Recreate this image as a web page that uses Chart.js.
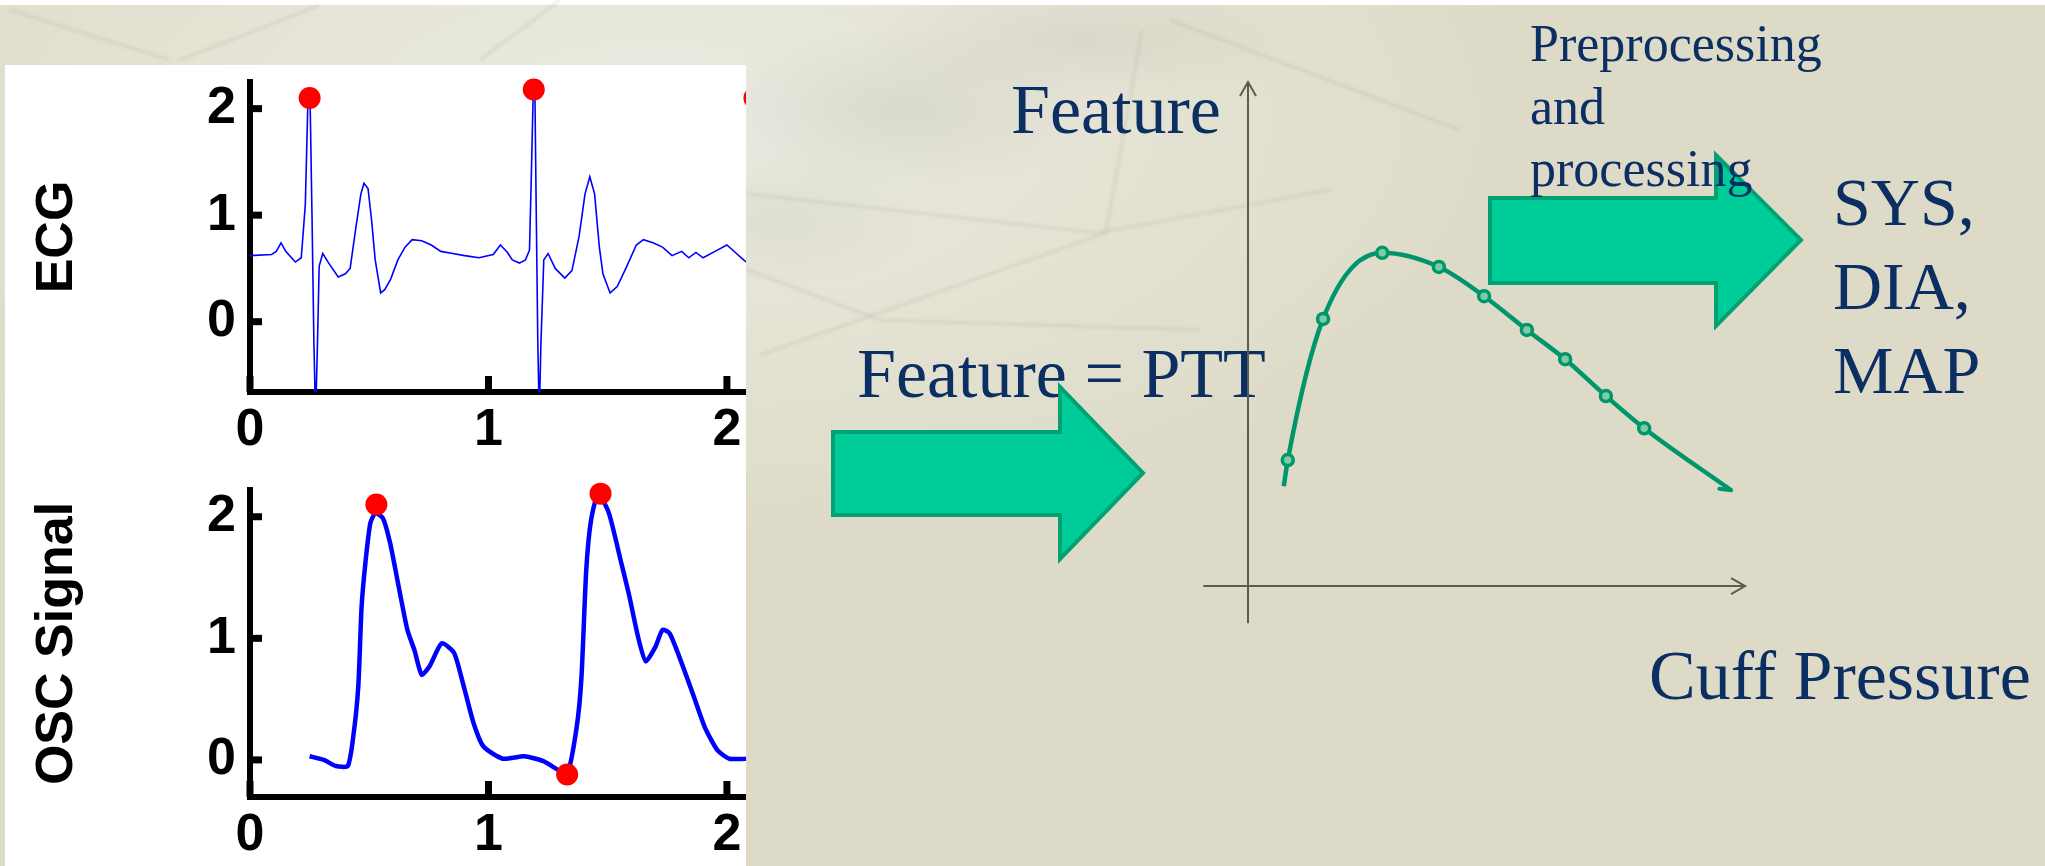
<!DOCTYPE html>
<html>
<head>
<meta charset="utf-8">
<script src="https://cdn.jsdelivr.net/npm/chart.js@4.4.0/dist/chart.umd.min.js"></script>
<style>
  html, body { margin: 0; padding: 0; }
  body {
    width: 2045px; height: 866px; position: relative; overflow: hidden;
    background: #dddbc7;
    font-family: "Liberation Serif", "Times New Roman", serif;
  }
  #bg {
    position: absolute; left: 0; top: 0; width: 2045px; height: 866px;
    background:
      linear-gradient(to bottom, #fff 0, #fff 5px, rgba(255,255,255,0) 5px),
      radial-gradient(ellipse 260px 110px at 900px 110px, rgba(170,170,160,0.22), rgba(170,170,160,0) 75%),
      radial-gradient(ellipse 300px 80px at 1080px 40px, rgba(175,175,165,0.2), rgba(175,175,165,0) 75%),
      radial-gradient(ellipse 200px 90px at 780px 220px, rgba(180,180,170,0.18), rgba(180,180,170,0) 75%),
      radial-gradient(ellipse 900px 420px at 650px 120px, rgba(236,236,228,0.95), rgba(232,231,219,0.6) 55%, rgba(221,219,199,0) 100%),
      #dddbc7;
  }
  #streaks { position: absolute; left: 0; top: 0; }
  #panel { position: absolute; left: 5px; top: 65px; width: 741px; height: 801px; background: #fff; }
  canvas { position: absolute; }
  #ecg { left: 5px; top: 65px; z-index: 2; }
  #osc { left: 5px; top: 465px; z-index: 2; }
  #feat { left: 1190px; top: 70px; z-index: 3; }
  .txt { position: absolute; color: #0b2e63; white-space: nowrap; line-height: 1; }
  #arrows { position: absolute; left: 0; top: 0; z-index: 4; }
</style>
</head>
<body>
<div id="bg"></div>
<svg id="streaks" width="2045" height="866">
  <defs><filter id="soft"><feGaussianBlur stdDeviation="1.6"/></filter></defs>
  <g fill="none" stroke="rgba(140,140,130,0.16)" stroke-width="3" filter="url(#soft)">
    <path d="M740,193 L1097,233 L1330,190"/>
    <path d="M760,355 L1106,233"/>
    <path d="M1142,30 L1106,233"/>
    <path d="M740,267 L880,320 L1200,330"/>
    <path d="M10,10 L170,60"/>
    <path d="M180,60 L320,5"/>
    <path d="M480,60 L560,0"/>
    <path d="M1170,20 L1460,130"/>
  </g>
</svg>
<div id="panel"></div>
<canvas id="ecg" width="741" height="400"></canvas>
<canvas id="osc" width="741" height="401"></canvas>

<div class="txt" style="left:1011px; top:75px; font-size:70px; z-index:2;">Feature</div>
<div class="txt" style="left:857px; top:339px; font-size:70px; z-index:2;">Feature = PTT</div>
<div class="txt" style="left:1649px; top:641px; font-size:70px; z-index:2;">Cuff Pressure</div>
<div class="txt" style="left:1833px; top:160px; font-size:68px; line-height:84px; z-index:2;">SYS,<br>DIA,<br>MAP</div>

<canvas id="feat" width="570" height="570"></canvas>

<svg id="arrows" width="2045" height="866">
  <polygon points="833,432 1060,432 1060,387 1143,473 1060,559 1060,515 833,515"
           fill="#00cc99" stroke="#00a274" stroke-width="4"/>
  <polygon points="1490,198 1716,198 1716,155 1801,240 1716,326 1716,283 1490,283"
           fill="#00cc99" stroke="#00a274" stroke-width="4"/>
</svg>
<div class="txt" style="left:1530px; top:13px; font-size:52px; line-height:62.5px; z-index:5;">Preprocessing<br>and<br>processing</div>

<script>
// ECG trace (time in s, amplitude)
const ecgTime = [0, 0.09, 0.11, 0.13, 0.15, 0.19, 0.215, 0.232, 0.243, 0.252, 0.26, 0.268, 0.275, 0.283, 0.29, 0.305,
  0.33, 0.37, 0.4, 0.42, 0.445, 0.465, 0.478, 0.495, 0.51, 0.525, 0.548, 0.565, 0.59, 0.62, 0.65, 0.68, 0.72, 0.76,
  0.8, 0.85, 0.9, 0.96, 1.02, 1.05, 1.08, 1.1, 1.13, 1.155, 1.172, 1.18, 1.188, 1.195, 1.2, 1.207, 1.213, 1.22,
  1.232, 1.25, 1.28, 1.32, 1.35, 1.38, 1.405, 1.425, 1.445, 1.465, 1.48, 1.51, 1.54, 1.58, 1.62, 1.65, 1.69, 1.73,
  1.77, 1.81, 1.84, 1.87, 1.9, 1.95, 2.0, 2.04, 2.07, 2.1];
const ecgValue = [0.62, 0.63, 0.66, 0.74, 0.66, 0.56, 0.6, 1.1, 2.08, 2.08, 1.0, -0.2, -0.9, -0.2, 0.52, 0.64,
  0.55, 0.42, 0.45, 0.5, 0.9, 1.2, 1.3, 1.25, 0.95, 0.58, 0.27, 0.3, 0.4, 0.58, 0.7, 0.77, 0.76, 0.72,
  0.66, 0.64, 0.62, 0.6, 0.63, 0.72, 0.65, 0.58, 0.55, 0.58, 0.67, 1.39, 2.18, 2.1, 1.1, -0.2, -0.9, -0.2,
  0.58, 0.64, 0.5, 0.41, 0.48, 0.8, 1.2, 1.36, 1.2, 0.7, 0.45, 0.27, 0.33, 0.52, 0.72, 0.77, 0.74, 0.7,
  0.62, 0.66, 0.6, 0.65, 0.6, 0.66, 0.72, 0.64, 0.58, 0.53];
const ecgPeakTime = [0.25, 1.19, 2.115];
const ecgPeakValue = [2.1, 2.18, 2.1];

// oscillometric signal
const oscTime = [0.25, 0.31, 0.36, 0.41, 0.433, 0.454, 0.468, 0.485, 0.505, 0.526, 0.557, 0.588, 0.629, 0.66, 0.69,
  0.72, 0.753, 0.804, 0.856, 0.897, 0.938, 0.979, 1.06, 1.15, 1.23, 1.29, 1.33, 1.37, 1.39, 1.41, 1.43, 1.46, 1.505,
  1.557, 1.588, 1.63, 1.66, 1.7, 1.73, 1.76, 1.8, 1.856, 1.907, 1.96, 2.01, 2.1];
const oscValue = [0.03, 0.0, -0.05, -0.05, 0.19, 0.6, 1.26, 1.64, 1.95, 2.03, 1.99, 1.78, 1.37, 1.07, 0.9,
  0.7, 0.77, 0.96, 0.88, 0.6, 0.3, 0.11, 0.01, 0.03, -0.01, -0.08, -0.12, 0.27, 0.68, 1.56, 1.97, 2.19, 2.03,
  1.62, 1.37, 0.99, 0.81, 0.93, 1.07, 1.04, 0.85, 0.55, 0.27, 0.08, 0.01, 0.01];
const oscMarkTime = [0.53, 1.33, 1.47];
const oscMarkValue = [2.1, -0.12, 2.19];

const timeTicks = [0, 1, 2];
const ampTicks = [0, 1, 2];

// feature vs cuff pressure sketch (arbitrary units)
const cuffPressure = [0.72, 0.80, 1.51, 2.70, 3.84, 4.75, 5.61, 6.38, 7.20, 7.97, 9.72];
const featureValue = [1.98, 2.50, 5.30, 6.61, 6.33, 5.75, 5.08, 4.50, 3.77, 3.13, 1.90];
const cuffAxis = [-0.9, 10];
const featureAxis = [-0.74, 10];

const pts = (xs, ys) => xs.map((x, i) => ({x: x, y: ys[i]}));

const boldFont = {family: '"Liberation Sans", Arial, sans-serif', size: 52, weight: 'bold'};

const innerTicks = {
  id: 'innerTicks',
  beforeDatasetsDraw(chart) {
    const {ctx, chartArea, scales} = chart;
    ctx.save();
    ctx.strokeStyle = '#000';
    ctx.lineWidth = 7;
    scales.x.ticks.forEach(t => {
      const px = scales.x.getPixelForValue(t.value);
      ctx.beginPath();
      ctx.moveTo(px, chartArea.bottom);
      ctx.lineTo(px, chartArea.bottom - 16);
      ctx.stroke();
    });
    scales.y.ticks.forEach(t => {
      const py = scales.y.getPixelForValue(t.value);
      ctx.beginPath();
      ctx.moveTo(chartArea.left, py);
      ctx.lineTo(chartArea.left + 12, py);
      ctx.stroke();
    });
    ctx.restore();
  }
};

function signalChart(id, opts) {
  return new Chart(document.getElementById(id), {
    type: 'scatter',
    data: {
      datasets: [
        {
          type: 'line',
          data: pts(opts.xs, opts.ys),
          borderColor: '#0000ff',
          borderWidth: opts.lineWidth,
          pointRadius: 0,
          tension: opts.tension,
          order: 2
        },
        {
          data: pts(opts.markX, opts.markY),
          backgroundColor: '#ff0000',
          borderWidth: 0,
          pointRadius: 11,
          clip: false,
          order: 1
        }
      ]
    },
    options: {
      responsive: false,
      animation: false,
      events: [],
      layout: {autoPadding: false, padding: {top: opts.padTop, left: 0, right: 0, bottom: 0}},
      plugins: {legend: {display: false}, tooltip: {enabled: false}},
      scales: {
        x: {
          type: 'linear',
          min: 0,
          max: 2.08,
          afterBuildTicks: s => { s.ticks = timeTicks.map(v => ({value: v})); },
          afterFit: s => { s.height = opts.xHeight; s.paddingLeft = 0; s.paddingRight = 0; },
          grid: {display: false, drawTicks: false},
          border: {display: true, color: '#000', width: 6},
          ticks: {font: boldFont, color: '#000', padding: 7, maxRotation: 0, autoSkip: false}
        },
        y: {
          type: 'linear',
          min: opts.yMin,
          max: opts.yMax,
          afterBuildTicks: s => { s.ticks = ampTicks.map(v => ({value: v})); },
          afterFit: s => { s.width = 245; s.paddingTop = 0; s.paddingBottom = 0; },
          grid: {display: false, drawTicks: false},
          border: {display: true, color: '#000', width: 6},
          ticks: {font: boldFont, color: '#000', padding: 14},
          title: {display: true, text: opts.title, font: boldFont, color: '#000', padding: {top: 21, bottom: 0}}
        }
      }
    },
    plugins: [innerTicks]
  });
}

signalChart('ecg', {
  xs: ecgTime, ys: ecgValue, markX: ecgPeakTime, markY: ecgPeakValue,
  lineWidth: 1.6, tension: 0, padTop: 17, xHeight: 73, yMin: -0.66, yMax: 2.25, title: 'ECG'
});
signalChart('osc', {
  xs: oscTime, ys: oscValue, markX: oscMarkTime, markY: oscMarkValue,
  lineWidth: 4.5, tension: 0.2, padTop: 25, xHeight: 69, yMin: -0.305, yMax: 2.22, title: 'OSC Signal'
});

const arrowAxes = {
  id: 'arrowAxes',
  beforeDatasetsDraw(chart) {
    const {ctx, scales: {x, y}} = chart;
    const ox = x.getPixelForValue(0), oy = y.getPixelForValue(0);
    const xa = x.getPixelForValue(cuffAxis[0]), xb = x.getPixelForValue(cuffAxis[1]);
    const ya = y.getPixelForValue(featureAxis[0]), yb = y.getPixelForValue(featureAxis[1]);
    ctx.save();
    ctx.strokeStyle = '#5e5b4f';
    ctx.lineWidth = 2;
    ctx.beginPath();
    ctx.moveTo(xa, oy); ctx.lineTo(xb, oy);
    ctx.moveTo(xb - 14, oy - 8); ctx.lineTo(xb, oy); ctx.lineTo(xb - 14, oy + 8);
    ctx.moveTo(ox, ya); ctx.lineTo(ox, yb);
    ctx.moveTo(ox - 8, yb + 14); ctx.lineTo(ox, yb); ctx.lineTo(ox + 8, yb + 14);
    ctx.stroke();
    ctx.restore();
  },
  afterDatasetsDraw(chart) {
    const meta = chart.getDatasetMeta(0);
    const last = meta.data[meta.data.length - 1];
    const ang = Math.atan2(last.y - last.cp1y, last.x - last.cp1x);
    const {ctx} = chart;
    ctx.save();
    ctx.strokeStyle = '#00966c';
    ctx.lineWidth = 4;
    ctx.lineCap = 'round';
    ctx.beginPath();
    ctx.moveTo(last.x - 12 * Math.cos(ang - 0.5), last.y - 12 * Math.sin(ang - 0.5));
    ctx.lineTo(last.x, last.y);
    ctx.stroke();
    ctx.restore();
  }
};

new Chart(document.getElementById('feat'), {
  type: 'line',
  data: {
    datasets: [{
      data: pts(cuffPressure, featureValue),
      borderColor: '#00966c',
      borderWidth: 4.5,
      cubicInterpolationMode: 'monotone',
      pointRadius: c => (c.dataIndex === 0 || c.dataIndex === cuffPressure.length - 1) ? 0 : 5.5,
      pointBorderWidth: 3.5,
      pointBorderColor: '#00966c',
      pointBackgroundColor: '#7fcca3',
      clip: false
    }]
  },
  options: {
    responsive: false,
    animation: false,
    events: [],
    layout: {autoPadding: false, padding: 0},
    plugins: {legend: {display: false}, tooltip: {enabled: false}},
    scales: {
      x: {type: 'linear', min: -1.167, max: 10.3, display: false},
      y: {type: 'linear', min: -1.071, max: 10.238, display: false}
    }
  },
  plugins: [arrowAxes]
});
</script>
</body>
</html>
